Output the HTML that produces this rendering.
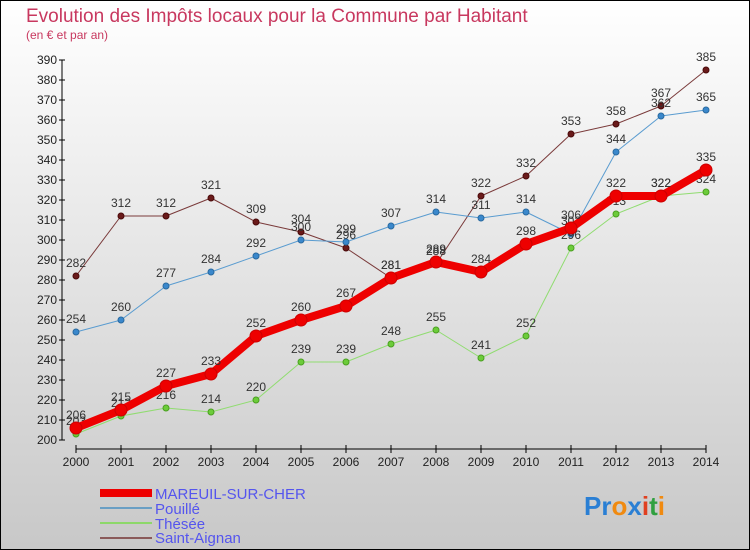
<!DOCTYPE html>
<html><head><meta charset="utf-8"><style>
body{margin:0;}
svg{display:block;font-family:"Liberation Sans",sans-serif;}
</style></head><body>
<svg id="c" width="750" height="550" viewBox="0 0 750 550">
<defs><linearGradient id="bg" x1="0" y1="0" x2="0" y2="1"><stop offset="0" stop-color="#ffffff"/><stop offset="1" stop-color="#c8c8c8"/></linearGradient></defs>
<rect x="0.5" y="0.5" width="749" height="549" fill="url(#bg)" stroke="#000"/>
<text x="26" y="22" font-size="19" fill="#c8385f">Evolution des Impôts locaux pour la Commune par Habitant</text>
<text x="26" y="39" font-size="12" fill="#c8385f">(en € et par an)</text>
<g id="axes"></g><g id="series"></g>
<g>
<rect x="100" y="489" width="52" height="8" fill="#ee0000"/>
<text x="155" y="499" font-size="15" fill="#5555ee">MAREUIL-SUR-CHER</text>
<rect x="100" y="507" width="52" height="2" fill="#6a9fc4"/>
<text x="155" y="514" font-size="15" fill="#5555ee">Pouillé</text>
<rect x="100" y="522" width="52" height="2" fill="#8dd86a"/>
<text x="155" y="529" font-size="15" fill="#5555ee">Thésée</text>
<rect x="100" y="537" width="52" height="2" fill="#8a5a5a"/>
<text x="155" y="543" font-size="15" fill="#5555ee">Saint-Aignan</text>
</g>
<text x="584" y="515" font-size="26" font-weight="bold"><tspan fill="#2a7fd4">Pr</tspan><tspan fill="#f08a10">o</tspan><tspan fill="#2a7fd4">x</tspan><tspan fill="#e04020">i</tspan><tspan fill="#30a040">t</tspan><tspan fill="#f08a10">i</tspan></text>
</svg>
<script>
const years=[2000,2001,2002,2003,2004,2005,2006,2007,2008,2009,2010,2011,2012,2013,2014];
const yTicks=[200,210,220,230,240,250,260,270,280,290,300,310,320,330,340,350,360,370,380,390];
const mareuil=[206,215,227,233,252,260,267,281,289,284,298,306,322,322,335];
const pouille=[254,260,277,284,292,300,299,307,314,311,314,303,344,362,365];
const thesee=[203,212,216,214,220,239,239,248,255,241,252,296,313,322,324];
const saintAignan=[282,312,312,321,309,304,296,281,288,322,332,353,358,367,385];
const NS="http://www.w3.org/2000/svg";
function X(i){return 76+i*45;}
function Y(v){return 440-(v-200)*2;}
function mk(t,a,p){const e=document.createElementNS(NS,t);for(const k in a)e.setAttribute(k,a[k]);p.appendChild(e);return e;}
const ax=document.getElementById('axes');
const ya=mk('line',{x1:62,y1:Y(390),x2:62,y2:440,stroke:'#000'},ax);


yTicks.forEach(v=>{
 mk('line',{x1:59,x2:65,y1:Y(v),y2:Y(v),stroke:'#000'},ax);
 const t=mk('text',{x:57,y:Y(v)+4,'font-size':12,'text-anchor':'end',fill:'#222'},ax);t.textContent=v;
 
 
});
const xa=mk('line',{x1:X(0),y1:449,x2:X(14),y2:449,stroke:'#000'},ax);


years.forEach((yr,i)=>{
 mk('line',{x1:X(i),x2:X(i),y1:445,y2:453,stroke:'#000'},ax);
 const t=mk('text',{x:X(i),y:466,'font-size':12,'text-anchor':'middle',fill:'#222'},ax);t.textContent=yr;
 
 
});
const sg=document.getElementById('series');
function draw(data,name,color,w,r,dot,stroke){
 const g=mk('g',{},sg);
 
 
 mk('polyline',{points:data.map((v,i)=>X(i)+','+Y(v)).join(' '),fill:'none',stroke:color,'stroke-width':w,'stroke-linejoin':'round'},g);
 data.forEach((v,i)=>{
  const c=mk('circle',{cx:X(i),cy:Y(v),r:r,fill:dot,stroke:stroke,'stroke-width':1},g);
  
  
  const t=mk('text',{x:X(i),y:Y(v)-9,'font-size':12,'text-anchor':'middle',fill:'#333'},g);t.textContent=v;
  
  
 });
}
draw(saintAignan,'saint-aignan','#7a3a3a',1,3,'#6a1a1a','#4a0a0a');
draw(pouille,'pouille','#5a9cd0',1,3,'#3a88cc','#2a6aa0');
draw(thesee,'thesee','#90dc70',1,3,'#6ccc3a','#4aa020');
draw(mareuil,'mareuil','#ee0000',8,6,'#ee0000','#cc0000');
</script>
</body></html>
